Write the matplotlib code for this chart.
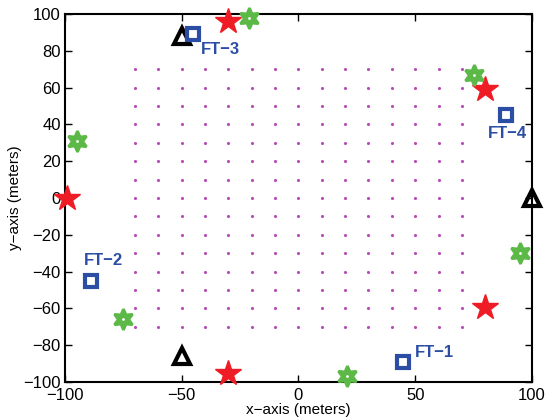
import numpy as np
import matplotlib
matplotlib.use('Agg')
import matplotlib.pyplot as plt

plt.rcParams['font.family'] = ['Liberation Sans', 'DejaVu Sans']

# grid of sensor points
grid_x = np.arange(-70, 71, 10)
grid_y = np.arange(-70, 71, 10)

# red stars
star_x = [-30, -99, 80, 80, -30]
star_y = [96, 0, 59, -59, -95]

# green hexagrams
hex_x = [-21, -95, -75, 21, 95, 75]
hex_y = [98, 31, -66, -97, -30, 67]

# black triangles
tri_x = [-50, -50, 100]
tri_y = [88, -86, 0]

# blue squares (FT)
sq_x = [45, -89, -45, 89]
sq_y = [-89, -45, 89, 45]
sq_labels = ['FT\u22121', 'FT\u22122', 'FT\u22123', 'FT\u22124']
lab_dx = [5, -3, 3, -8]
lab_dy = [5, 11, -8, -10]

fig = plt.figure(figsize=(5.48, 4.2), dpi=100)
ax = fig.add_axes([0.1186, 0.0905, 0.852, 0.876])

gx, gy = np.meshgrid(grid_x, grid_y)
ax.plot(gx.ravel(), gy.ravel(), '.', color='#B84DB8', markersize=2.5, zorder=2)

ax.plot(star_x, star_y, linestyle='none', marker='*', markersize=19,
        color='#EE1C25', markeredgecolor='#EE1C25', clip_on=False, zorder=5)
ax.plot(hex_x, hex_y, linestyle='none', marker=(6, 1, 0), markersize=15,
        color='#5CB947', markeredgecolor='#5CB947', mew=2, clip_on=False, zorder=5)
ax.plot(hex_x, hex_y, linestyle='none', marker='o', markersize=2,
        color='white', markeredgewidth=0, clip_on=False, zorder=6)
ax.plot(tri_x, tri_y, linestyle='none', marker='^', markersize=12,
        markerfacecolor='none', markeredgecolor='black', mew=3, clip_on=False, zorder=5)
ax.plot(sq_x, sq_y, linestyle='none', marker='s', markersize=9,
        markerfacecolor='white', markeredgecolor='#2B4DA3', mew=3, clip_on=False, zorder=5)

for x, y, t, dx, dy in zip(sq_x, sq_y, sq_labels, lab_dx, lab_dy):
    ax.text(x + dx, y + dy, t, color='#2B4DA3', fontsize=12, fontweight='bold',
            ha='left', va='center', zorder=7)

ax.set_xlim(-100, 100)
ax.set_ylim(-100, 100)
ax.set_xticks([-100, -50, 0, 50, 100])
ax.set_yticks(np.arange(-100, 101, 20))
ax.set_xticklabels(['\u2212100', '\u221250', '0', '50', '100'])
ax.set_yticklabels([str(v).replace('-', '\u2212') for v in range(-100, 101, 20)])
ax.tick_params(direction='in', top=True, right=True, labelsize=12, length=5, width=1, pad=3)
ax.tick_params(axis='x', pad=4)
for s in ax.spines.values():
    s.set_linewidth(1.5)
ax.set_xlabel('x\u2212axis (meters)', fontsize=11, labelpad=0)
ax.set_ylabel('y\u2212axis (meters)', fontsize=11, labelpad=1)

fig.savefig('out.png', dpi=100)
